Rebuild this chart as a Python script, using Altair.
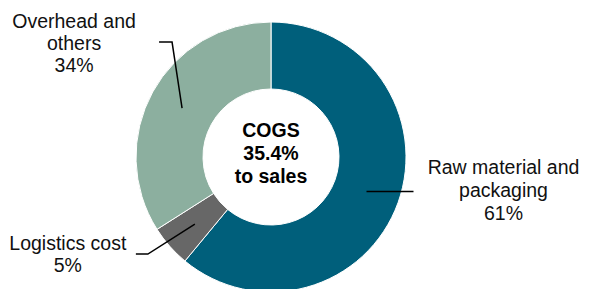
import math
import altair as alt
import pandas as pd

# ---- data ----
categories = ["Raw material and packaging", "Logistics cost", "Overhead and others"]
shares = [61, 5, 34]
slice_colors = ["#005F7B", "#676767", "#8CAF9F"]
label_lines = [
    ["Raw material and", "packaging", "61%"],
    ["Logistics cost", "5%"],
    ["Overhead and", "others", "34%"],
]
center_lines = ["COGS", "35.4%", "to sales"]

# ---- layout ----
W, H = 574, 281
CX, CY = 263, 149
R_OUT, R_IN = 135, 68
R_MID = (R_OUT + R_IN) / 2
FONT = "Liberation Sans"
FS = 19.5

slices = pd.DataFrame({
    "cat": categories,
    "value": shares,
    "idx": list(range(len(categories))),
})

# leader line geometry derived from slice mid-angles
# relative path offsets after the start point, and text offsets from the end point
leader_paths = [
    [(47, 0)],
    [(-47, 30), (-59, 30)],
    [(-10, -66), (-23, -66)],
]
text_offsets = [
    (90, [-17, 6, 29]),
    (-68, [-4, 18]),
    (-85, [-14.5, 7.5, 30]),
]

total = sum(shares)
cum = 0
seg_rows, txt_rows = [], []
for i, v in enumerate(shares):
    a = (cum + v / 2) / total * 2 * math.pi
    cum += v
    sx = CX + R_MID * math.sin(a)
    sy = CY - R_MID * math.cos(a)
    pts = [(sx, sy)] + [(sx + dx, sy + dy) for dx, dy in leader_paths[i]]
    for k, (px, py) in enumerate(pts):
        seg_rows.append({"seg": i, "pt": k, "x": px, "y": py})
    ex, ey = pts[-1]
    tdx, tdys = text_offsets[i]
    for line, tdy in zip(label_lines[i], tdys):
        txt_rows.append({"t": line, "x": ex + tdx, "y": ey + tdy})

center_rows = [{"t": t, "x": CX, "y": CY - 20 + 23 * j} for j, t in enumerate(center_lines)]

segs = pd.DataFrame(seg_rows)
texts = pd.DataFrame(txt_rows)
ctexts = pd.DataFrame(center_rows)

xs = alt.Scale(domain=[0, W], range=[0, W], nice=False, zero=False)
ys = alt.Scale(domain=[0, H], range=[0, H], nice=False, zero=False)

arcs = alt.Chart(slices).mark_arc(
    outerRadius=R_OUT, innerRadius=R_IN, stroke="white", strokeWidth=1
).encode(
    theta=alt.Theta("value:Q", stack=True),
    order=alt.Order("idx:Q"),
    color=alt.Color("cat:N", scale=alt.Scale(domain=categories, range=slice_colors), legend=None),
    x=alt.value(CX),
    y=alt.value(CY),
)

lines = alt.Chart(segs).mark_line(color="black", strokeWidth=1.5).encode(
    x=alt.X("x:Q", scale=xs, axis=None),
    y=alt.Y("y:Q", scale=ys, axis=None),
    detail="seg:N",
    order="pt:Q",
)

labels = alt.Chart(texts).mark_text(
    font=FONT, fontSize=FS, align="center", baseline="alphabetic", color="#111111"
).encode(
    x=alt.X("x:Q", scale=xs, axis=None),
    y=alt.Y("y:Q", scale=ys, axis=None),
    text="t:N",
)

center = alt.Chart(ctexts).mark_text(
    font=FONT, fontSize=FS, fontWeight="bold", align="center", baseline="alphabetic", color="black"
).encode(
    x=alt.X("x:Q", scale=xs, axis=None),
    y=alt.Y("y:Q", scale=ys, axis=None),
    text="t:N",
)

chart = alt.layer(arcs, lines, labels, center).properties(
    width=W, height=H, padding=0,
    autosize=alt.AutoSizeParams(type="none"),
).configure_view(stroke=None)

chart.save("out.html", embed_options={"renderer": "svg", "actions": False})
